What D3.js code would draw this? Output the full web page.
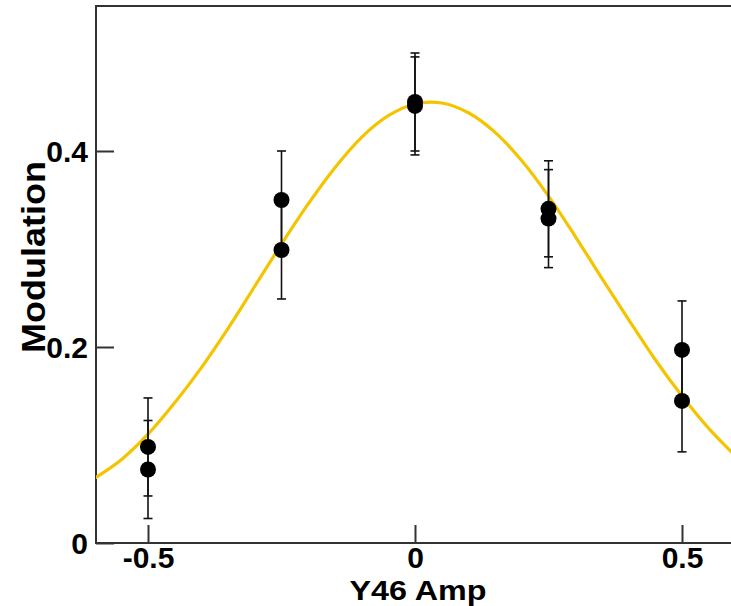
<!DOCTYPE html>
<html>
<head>
<meta charset="utf-8">
<script src="https://cdn.jsdelivr.net/npm/d3@7"></script>
<style>
html,body{margin:0;padding:0;background:#fff;}
svg{display:block;}
text{font-family:"Liberation Sans",Arial,sans-serif;font-weight:bold;fill:#000;}
</style>
</head>
<body>
<svg id="chart" width="731" height="606"></svg>
<script>
// Measured points (x, modulation, error)
const pointX   = [-0.5, -0.5, -0.25, -0.25, 0, 0, 0.25, 0.25, 0.5, 0.5];
const pointY   = [0.098, 0.075, 0.350, 0.299, 0.450, 0.446, 0.341, 0.331, 0.197, 0.145];
const pointErr = [0.050, 0.050, 0.050, 0.050, 0.050, 0.050, 0.049, 0.050, 0.050, 0.052];

// Fit curve
const curveX = [-0.6,-0.55,-0.5,-0.45,-0.4,-0.35,-0.3,-0.25,-0.2,-0.15,-0.1,-0.05,0,0.05,0.1,0.15,0.2,0.25,0.3,0.35,0.4,0.45,0.5,0.55,0.6];
const curveY = [0.066,0.085,0.111,0.143,0.179,0.219,0.262,0.305,0.346,0.383,0.414,0.436,0.448,0.449,0.439,0.419,0.390,0.354,0.313,0.270,0.228,0.187,0.150,0.117,0.089];

const xTicks = [-0.5, 0, 0.5];
const xTickLabels = ["-0.5", "0", "0.5"];
const yTicks = [0, 0.2, 0.4];
const yTickLabels = ["0", "0.2", "0.4"];
const xTitle = "Y46 Amp";
const yTitle = "Modulation";

const svg = d3.select("#chart");
const plotLeft = 96, plotBottom = 543, plotTop = 6;
const x = d3.scaleLinear().domain([-0.6, 0.6]).range([94.6, 735.4]);
const y = d3.scaleLinear().domain([0, 0.4]).range([543, 151]);
const FS = 30;

// frame
svg.append("path")
  .attr("d", `M${x.range()[1]+5},${plotTop} H${plotLeft} V${plotBottom} H${x.range()[1]+5}`)
  .attr("fill", "none").attr("stroke", "#333").attr("stroke-width", 2);

// x ticks (inward)
const xAxis = d3.axisBottom(x).tickValues(xTicks).tickSize(-18).tickFormat((d,i)=>xTickLabels[i]).tickPadding(8);
const gx = svg.append("g").attr("transform", `translate(0,${plotBottom})`).call(xAxis);
gx.select(".domain").remove();
gx.selectAll(".tick line").attr("stroke", "#333").attr("stroke-width", 2);
gx.selectAll(".tick text").attr("font-size", FS).attr("font-family", "Liberation Sans").attr("font-weight","bold").attr("fill","#000").attr("dy","0.58em");

const yAxis = d3.axisLeft(y).tickValues(yTicks).tickSize(-18).tickFormat((d,i)=>yTickLabels[i]).tickPadding(8);
const gy = svg.append("g").attr("transform", `translate(${plotLeft},0)`).call(yAxis);
gy.select(".domain").remove();
gy.selectAll(".tick line").attr("stroke", "#333").attr("stroke-width", 2);
gy.selectAll(".tick text").attr("font-size", FS).attr("font-family", "Liberation Sans").attr("font-weight","bold").attr("fill","#000").attr("dy","0.36em");

// curve
svg.append("clipPath").attr("id","plotclip").append("rect")
  .attr("x", plotLeft).attr("y", plotTop).attr("width", 731-plotLeft).attr("height", plotBottom-plotTop);
const line = d3.line().x((d,i)=>x(curveX[i])).y((d,i)=>y(curveY[i])).curve(d3.curveCatmullRom);
svg.append("path").datum(curveY).attr("d", line)
  .attr("fill","none").attr("stroke","#f5c400").attr("stroke-width",3.2)
  .attr("clip-path","url(#plotclip)");

// error bars
const eb = svg.append("g");
pointX.forEach((px,i)=>{
  const cx = x(px), y1 = y(pointY[i]+pointErr[i]), y2 = y(pointY[i]-pointErr[i]);
  eb.append("line").attr("x1",cx).attr("x2",cx).attr("y1",y1).attr("y2",y2).attr("stroke","#111").attr("stroke-width",1.6);
  [y1,y2].forEach(yy=>eb.append("line").attr("x1",cx-4.5).attr("x2",cx+4.5).attr("y1",yy).attr("y2",yy).attr("stroke","#111").attr("stroke-width",1.6));
});

// points
svg.append("g").selectAll("circle").data(pointX).join("circle")
  .attr("cx",(d)=>x(d)).attr("cy",(d,i)=>y(pointY[i])).attr("r",8).attr("fill","#000");

// titles
svg.append("text").attr("x", 418).attr("y", 599.5).attr("text-anchor","middle").attr("font-size",27)
  .attr("textLength",137).attr("lengthAdjust","spacingAndGlyphs").text(xTitle);
svg.append("text").attr("transform","translate(45,257) rotate(-90)").attr("text-anchor","middle").attr("font-size",33)
  .attr("textLength",192).attr("lengthAdjust","spacingAndGlyphs").text(yTitle);
</script>
</body>
</html>
